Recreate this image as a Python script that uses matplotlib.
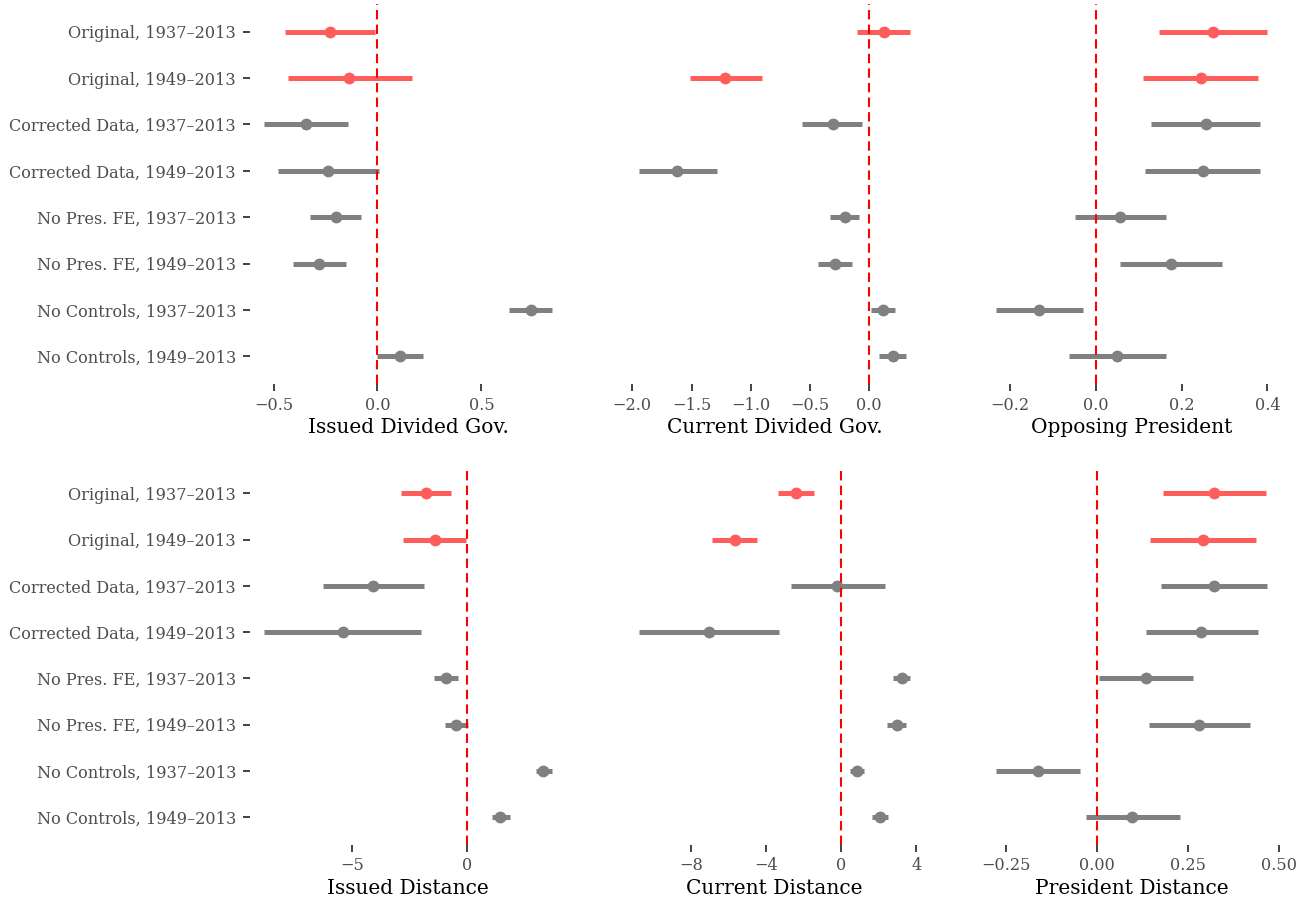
import matplotlib
matplotlib.use("Agg")
import matplotlib.pyplot as plt

plt.rcParams['font.family'] = ['DejaVu Serif']

# model labels, top to bottom
models = ["Original, 1937\u20132013", "Original, 1949\u20132013",
          "Corrected Data, 1937\u20132013", "Corrected Data, 1949\u20132013",
          "No Pres. FE, 1937\u20132013", "No Pres. FE, 1949\u20132013",
          "No Controls, 1937\u20132013", "No Controls, 1949\u20132013"]

# estimates and interval ends
issued_gov_est = [-0.228, -0.137, -0.342, -0.236, -0.199, -0.279, 0.738, 0.109]
issued_gov_lo = [-0.443, -0.432, -0.544, -0.477, -0.323, -0.406, 0.634, -0.003]
issued_gov_hi = [-0.010, 0.164, -0.141, 0.008, -0.077, -0.149, 0.838, 0.220]

current_gov_est = [0.121, -1.215, -0.310, -1.620, -0.209, -0.293, 0.116, 0.197]
current_gov_lo = [-0.101, -1.510, -0.564, -1.947, -0.332, -0.437, 0.014, 0.085]
current_gov_hi = [0.347, -0.907, -0.062, -1.288, -0.085, -0.146, 0.217, 0.313]

opp_pres_est = [0.274, 0.244, 0.256, 0.249, 0.057, 0.175, -0.133, 0.050]
opp_pres_lo = [0.146, 0.109, 0.129, 0.115, -0.048, 0.057, -0.234, -0.063]
opp_pres_hi = [0.400, 0.379, 0.382, 0.382, 0.163, 0.295, -0.031, 0.163]

issued_dist_est = [-1.77, -1.40, -4.07, -5.40, -0.90, -0.46, 3.32, 1.45]
issued_dist_lo = [-2.87, -2.77, -6.27, -8.81, -1.42, -0.97, 2.99, 1.07]
issued_dist_hi = [-0.68, -0.06, -1.87, -2.00, -0.39, 0.06, 3.68, 1.86]

current_dist_est = [-2.38, -5.66, -0.20, -7.05, 3.23, 2.95, 0.85, 2.06]
current_dist_lo = [-3.34, -6.87, -2.68, -10.79, 2.77, 2.45, 0.48, 1.63]
current_dist_hi = [-1.44, -4.46, 2.36, -3.30, 3.69, 3.46, 1.22, 2.47]

pres_dist_est = [0.322, 0.292, 0.321, 0.287, 0.136, 0.281, -0.161, 0.097]
pres_dist_lo = [0.182, 0.145, 0.175, 0.134, 0.006, 0.143, -0.278, -0.031]
pres_dist_hi = [0.463, 0.438, 0.468, 0.441, 0.264, 0.420, -0.045, 0.228]

panels = [
    ("Issued Divided Gov.", issued_gov_est, issued_gov_lo, issued_gov_hi, [-0.5, 0.0, 0.5], ["\u22120.5", "0.0", "0.5"]),
    ("Current Divided Gov.", current_gov_est, current_gov_lo, current_gov_hi, [-2, -1.5, -1, -0.5, 0], ["\u22122.0", "\u22121.5", "\u22121.0", "\u22120.5", "0.0"]),
    ("Opposing President", opp_pres_est, opp_pres_lo, opp_pres_hi, [-0.2, 0, 0.2, 0.4], ["\u22120.2", "0.0", "0.2", "0.4"]),
    ("Issued Distance", issued_dist_est, issued_dist_lo, issued_dist_hi, [-5, 0], ["\u22125", "0"]),
    ("Current Distance", current_dist_est, current_dist_lo, current_dist_hi, [-8, -4, 0, 4], ["\u22128", "\u22124", "0", "4"]),
    ("President Distance", pres_dist_est, pres_dist_lo, pres_dist_hi, [-0.25, 0, 0.25, 0.5], ["\u22120.25", "0.00", "0.25", "0.50"]),
]

W, H = 1309, 901
fig = plt.figure(figsize=(W / 100, H / 100), dpi=100)

col_x = [(250, 316), (625, 299), (982, 299)]
row_y = [(4, 384), (465.5, 845)]

ypos = list(range(len(models), 0, -1))

for i, (title, est, lo, hi, ticks, ticklabels) in enumerate(panels):
    r, c = divmod(i, 3)
    x0, w = col_x[c]
    y0, y1 = row_y[r]
    ax = fig.add_axes([x0 / W, (H - y1) / H, w / W, (y1 - y0) / H])

    for j in range(len(models)):
        col = "#FF5C5C" if models[j].startswith("Original") else "#808080"
        ax.plot([lo[j], hi[j]], [ypos[j], ypos[j]], color=col, lw=3.6, solid_capstyle="butt", zorder=2)
        ax.plot(est[j], ypos[j], "o", color=col, ms=7.5, zorder=3)

    ax.axvline(0, color="#FF0000", lw=1.5, ls=(0, (4.5, 2.5)), zorder=4)

    xmin = min(min(lo), 0)
    xmax = max(max(hi), 0)
    pad = (xmax - xmin) * 0.05
    ax.set_xlim(xmin - pad, xmax + pad)
    ax.set_ylim(0.4, len(models) + 0.6)

    ax.set_xticks(ticks)
    ax.set_xticklabels(ticklabels)
    ax.set_xlabel(title, fontsize=14.5, color="black", labelpad=3)
    ax.tick_params(axis="x", length=5, width=1.3, color="#333333", labelcolor="#4D4D4D", labelsize=11.6, pad=4)

    if c == 0:
        ax.set_yticks(ypos)
        ax.set_yticklabels(models)
        ax.tick_params(axis="y", length=5, width=1.3, color="#333333", labelcolor="#4D4D4D", labelsize=11.6, pad=5)
    else:
        ax.set_yticks([])

    for s in ax.spines.values():
        s.set_visible(False)

fig.savefig("out.png", dpi=100)
